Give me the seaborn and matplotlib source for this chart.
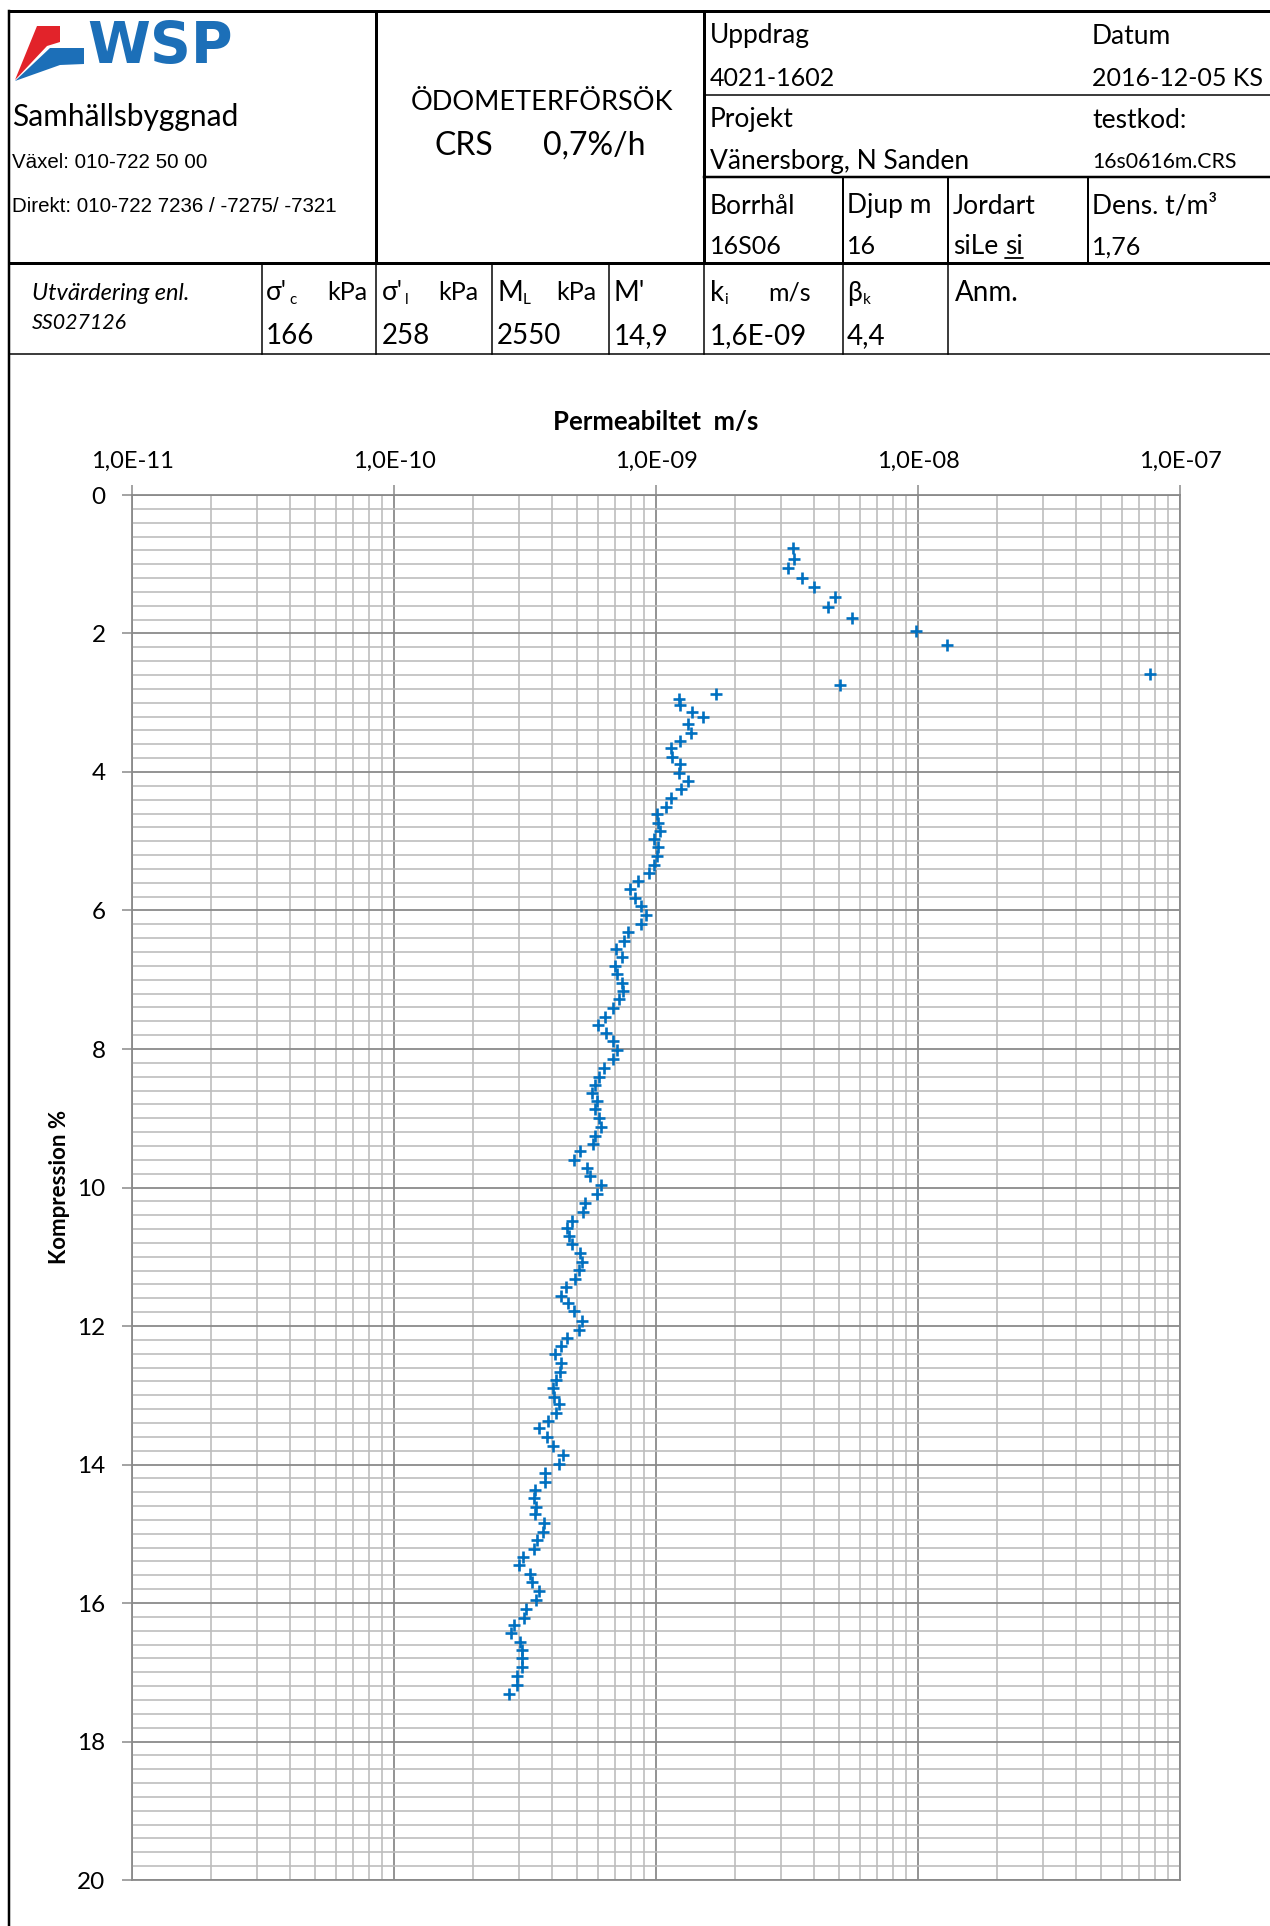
import matplotlib
matplotlib.use("Agg")
import matplotlib.pyplot as plt
import seaborn as sns
import numpy as np
import pandas as pd
from matplotlib.ticker import LogLocator, MultipleLocator, FixedLocator, NullFormatter
from matplotlib.patches import Polygon

# ---------------- data ----------------
compression = [
    0.77, 0.92, 1.05, 1.20, 1.33, 1.48, 1.62, 1.78, 1.97, 2.17,
    2.58, 2.74, 2.87, 2.95, 3.03, 3.13, 3.21, 3.31, 3.43, 3.55,
    3.66, 3.78, 3.89, 4.01, 4.13, 4.25, 4.38, 4.50, 4.61, 4.74,
    4.85, 4.97, 5.08, 5.21, 5.34, 5.46, 5.58, 5.69, 5.82, 5.94,
    6.06, 6.19, 6.31, 6.44, 6.56, 6.67, 6.80, 6.92, 7.04, 7.16,
    7.28, 7.41, 7.54, 7.65, 7.77, 7.89, 8.01, 8.14, 8.27, 8.40,
    8.52, 8.63, 8.75, 8.87, 8.99, 9.12, 9.25, 9.37, 9.48, 9.60,
    9.72, 9.84, 9.97, 10.10, 10.23, 10.36, 10.48, 10.59, 10.70, 10.82,
    10.94, 11.07, 11.19, 11.32, 11.43, 11.56, 11.67, 11.79, 11.93, 12.06,
    12.18, 12.29, 12.41, 12.53, 12.66, 12.78, 12.89, 13.02, 13.13, 13.25,
    13.37, 13.48, 13.61, 13.73, 13.86, 13.99, 14.12, 14.25, 14.37, 14.48,
    14.61, 14.72, 14.84, 14.97, 15.09, 15.22, 15.34, 15.45, 15.58, 15.70,
    15.82, 15.95, 16.08, 16.21, 16.32, 16.44, 16.56, 16.68, 16.80, 16.93,
    17.06, 17.19, 17.31,
]
permeability = [
    3.32e-9, 3.36e-9, 3.20e-9, 3.62e-9, 4.01e-9, 4.83e-9, 4.55e-9, 5.60e-9, 9.85e-9, 1.29e-8,
    7.66e-8, 5.03e-9, 1.69e-9, 1.22e-9, 1.24e-9, 1.37e-9, 1.51e-9, 1.33e-9, 1.36e-9, 1.24e-9,
    1.14e-9, 1.15e-9, 1.24e-9, 1.22e-9, 1.32e-9, 1.25e-9, 1.14e-9, 1.09e-9, 1.01e-9, 1.02e-9,
    1.04e-9, 9.80e-10, 1.02e-9, 1.01e-9, 9.85e-10, 9.43e-10, 8.56e-10, 7.94e-10, 8.29e-10, 8.76e-10,
    9.18e-10, 8.79e-10, 7.82e-10, 7.53e-10, 7.02e-10, 7.40e-10, 6.99e-10, 7.10e-10, 7.42e-10, 7.50e-10,
    7.21e-10, 6.87e-10, 6.41e-10, 6.01e-10, 6.46e-10, 6.87e-10, 7.08e-10, 6.88e-10, 6.32e-10, 6.04e-10,
    5.87e-10, 5.71e-10, 5.94e-10, 5.85e-10, 6.04e-10, 6.18e-10, 5.87e-10, 5.76e-10, 5.11e-10, 4.88e-10,
    5.44e-10, 5.61e-10, 6.18e-10, 5.95e-10, 5.35e-10, 5.27e-10, 4.79e-10, 4.59e-10, 4.64e-10, 4.79e-10,
    5.14e-10, 5.22e-10, 5.07e-10, 4.90e-10, 4.55e-10, 4.34e-10, 4.63e-10, 4.85e-10, 5.22e-10, 5.08e-10,
    4.56e-10, 4.35e-10, 4.12e-10, 4.35e-10, 4.29e-10, 4.15e-10, 4.03e-10, 4.09e-10, 4.25e-10, 4.15e-10,
    3.86e-10, 3.59e-10, 3.85e-10, 4.05e-10, 4.40e-10, 4.26e-10, 3.78e-10, 3.78e-10, 3.46e-10, 3.41e-10,
    3.49e-10, 3.45e-10, 3.75e-10, 3.69e-10, 3.50e-10, 3.43e-10, 3.10e-10, 3.01e-10, 3.30e-10, 3.36e-10,
    3.58e-10, 3.49e-10, 3.18e-10, 3.13e-10, 2.86e-10, 2.80e-10, 3.02e-10, 3.07e-10, 3.08e-10, 3.09e-10,
    2.95e-10, 2.96e-10, 2.75e-10,
]
x_tick_values = [1e-11, 1e-10, 1e-9, 1e-8, 1e-7]
x_tick_labels = ["1,0E-11", "1,0E-10", "1,0E-09", "1,0E-08", "1,0E-07"]
y_tick_values = [0, 2, 4, 6, 8, 10, 12, 14, 16, 18, 20]
y_tick_labels = ["0", "2", "4", "6", "8", "10", "12", "14", "16", "18", "20"]

# ---------------- style ----------------
sns.set_theme(style="white")
FONT = ['Lato', 'DejaVu Sans']
ARIAL = ['Liberation Sans', 'DejaVu Sans']
plt.rcParams['font.family'] = FONT

W, H = 1270, 1926
fig = plt.figure(figsize=(W / 100, H / 100), dpi=100)
fig.patch.set_facecolor('white')

# overlay in pixel coordinates
ov = fig.add_axes([0, 0, 1, 1])
ov.set_xlim(0, W)
ov.set_ylim(H, 0)
ov.axis('off')


def hl(y, x0, x1, px):
    ov.plot([x0, x1], [y, y], color='black', lw=px * 0.72, solid_capstyle='projecting')


def vl(x, y0, y1, px):
    ov.plot([x, x], [y0, y1], color='black', lw=px * 0.72, solid_capstyle='projecting')


def tx(x, y, s, size, **kw):
    kw.setdefault('va', 'center')
    kw.setdefault('ha', 'left')
    kw.setdefault('family', FONT)
    ov.text(x, y + 3, s, fontsize=size, color='black', **kw)


# frame / table lines
hl(11, 9, W, 3)
vl(9, 11, H, 2.5)
vl(376, 11, 263, 3)
vl(704, 11, 263, 3)
hl(95, 704, W, 1.5)
hl(177, 704, W, 2.5)
vl(843, 177, 263, 2)
vl(948, 177, 263, 2)
vl(1088, 177, 263, 2)
hl(263, 9, W, 3)
for xv in [262, 376, 492, 609, 704, 843, 948]:
    vl(xv, 263, 354, 1.5)
hl(354, 9, W, 1.5)

# logo
ov.add_patch(Polygon([(37, 26), (60, 26), (60, 42), (47, 46), (15, 80)],
                     closed=True, color='#e2232a', lw=0))
ov.add_patch(Polygon([(50, 48), (84, 48), (84, 64), (60, 65), (15, 81)],
                     closed=True, color='#1c6fb8', lw=0))
ov.text(87, 47, "WSP", fontsize=41, fontweight='bold', color='#1c6fb8',
        family=['DejaVu Sans'], va='center', ha='left')

# left header texts
tx(12, 114, "Samhällsbyggnad", 21.5)
tx(12, 160, "Växel: 010-722 50 00", 14.8, family=ARIAL)
tx(12, 204, "Direkt: 010-722 7236 / -7275/ -7321", 14.8, family=ARIAL)

# title block
tx(542, 99, "ÖDOMETERFÖRSÖK", 19.5, ha='center')
tx(435, 143, "CRS", 23)
tx(543, 143, "0,7%/h", 23)

# right header texts
tx(710, 33, "Uppdrag", 19)
tx(710, 75, "4021-1602", 18)
tx(1092, 33, "Datum", 19)
tx(1092, 75, "2016-12-05 KS", 18)
tx(710, 117, "Projekt", 19)
tx(710, 158, "Vänersborg, N Sanden", 19)
tx(1092, 117, "testkod:", 19)
tx(1092, 159, "16s0616m.CRS", 15.3)
tx(710, 203, "Borrhål", 19)
tx(710, 244, "16S06", 18)
tx(847, 203, "Djup m", 19)
tx(847, 244, "16", 18)
tx(953, 203, "Jordart", 19)
tx(953, 244, "siLe", 19)
tx(1005, 244, "si", 19)
ov.plot([1005, 1023], [258, 258], color='black', lw=1.3)
tx(1092, 203, "Dens. t/m³", 19)
tx(1092, 244, "1,76", 18)

# second row
tx(32, 291, "Utvärdering enl.", 17, style='italic')
tx(32, 320, "SS027126", 15.4, style='italic')

tx(266, 290, "σ'", 19)
tx(289, 297, "c", 11)
tx(327, 290, "kPa", 18)
tx(266, 333, "166", 20)

tx(382, 290, "σ'", 19)
tx(405, 297, "l", 11)
tx(438, 290, "kPa", 18)
tx(382, 333, "258", 20)

tx(497, 290, "M", 20)
tx(523, 297, "L", 11)
tx(556, 290, "kPa", 18)
tx(497, 333, "2550", 20)

tx(614, 290, "M'", 20)
tx(614, 333, "14,9", 20)

tx(710, 290, "k", 20)
tx(724, 297, "i", 11)
tx(768, 290, "m/s", 18)
tx(710, 333, "1,6E-09", 20)

tx(847, 290, "β", 19)
tx(863, 297, "k", 11)
tx(847, 333, "4,4", 20)

tx(955, 290, "Anm.", 20)

# chart titles
tx(656, 419, "Permeabiltet  m/s", 18.5, ha='center', fontweight='bold')
tx(59, 1184, "Kompression %", 16, ha='center', fontweight='bold', rotation=90)

# ---------------- main chart ----------------
x0, x1, y0, y1 = 132, 1180, 495, 1880
ax = fig.add_axes([x0 / W, 1 - y1 / H, (x1 - x0) / W, (y1 - y0) / H])
ax.set_facecolor('white')
df = pd.DataFrame({"Permeabilitet": permeability, "Kompression": compression})
sns.scatterplot(data=df, x="Permeabilitet", y="Kompression", marker='+',
                color='#0070C0', s=85, linewidth=1.9, ax=ax, zorder=5)
ax.set_xscale('log')
ax.set_xlim(1e-11, 1e-7)
ax.set_ylim(20, 0)

ax.xaxis.set_major_locator(FixedLocator(x_tick_values))
ax.set_xticklabels(x_tick_labels)
ax.xaxis.set_minor_locator(LogLocator(base=10, subs=np.arange(2, 10), numticks=20))
ax.xaxis.set_minor_formatter(NullFormatter())
ax.xaxis.tick_top()
ax.yaxis.set_major_locator(FixedLocator(y_tick_values))
ax.set_yticklabels(y_tick_labels)
ax.yaxis.set_minor_locator(MultipleLocator(0.2))

major_c = '#8a8a8a'
minor_c = '#bdbdbd'
ax.grid(which='major', axis='both', color=major_c, lw=1.3)
ax.grid(which='minor', axis='both', color=minor_c, lw=1.2)
ax.set_axisbelow(True)

ax.tick_params(axis='x', which='major', top=True, bottom=False, labeltop=True,
               labelbottom=False, direction='out', length=7, width=1.1,
               color=major_c, labelsize=17, pad=10, labelcolor='black')
ax.tick_params(axis='x', which='minor', top=False, bottom=False)
ax.tick_params(axis='y', which='major', left=True, direction='out', length=7,
               width=1.1, color=major_c, labelsize=17.5, pad=12, labelcolor='black')
ax.tick_params(axis='y', which='minor', left=False, right=False)
for lab in ax.get_xticklabels() + ax.get_yticklabels():
    lab.set_family(FONT)
for s in ax.spines.values():
    s.set_color(major_c)
    s.set_linewidth(1.3)
ax.set_xlabel('')
ax.set_ylabel('')

fig.savefig("out.png", dpi=100, facecolor='white')
